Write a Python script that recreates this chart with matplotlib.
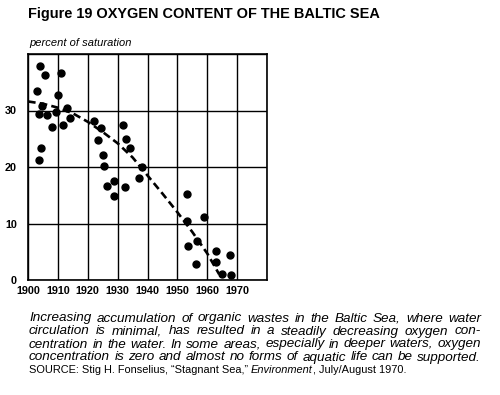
import numpy as np
import matplotlib.pyplot as plt

plt.rcParams['font.family'] = ['Liberation Sans', 'DejaVu Sans']

# data points
years = [1903.1, 1903.9, 1905.6, 1904.8, 1903.7, 1906.4, 1904.5, 1903.6, 1908.1, 1909.5,
         1910.1, 1911.0, 1911.7, 1913.1, 1914.0, 1922.0, 1924.4, 1923.3, 1925.2, 1925.5,
         1926.6, 1928.7, 1928.7, 1931.8, 1932.8, 1934.1, 1932.6, 1937.0, 1938.0, 1953.1,
         1953.1, 1953.5, 1956.5, 1956.3, 1958.9, 1963.0, 1963.0, 1964.9, 1967.7, 1968.1]
oxygen = [33.4, 37.8, 36.2, 30.8, 29.4, 29.2, 23.4, 21.3, 27.1, 29.7,
          32.8, 36.6, 27.4, 30.4, 28.6, 28.1, 26.9, 24.7, 22.2, 20.1,
          16.7, 17.6, 14.8, 27.5, 24.9, 23.4, 16.5, 18.0, 20.0, 15.2,
          10.5, 6.0, 6.9, 2.8, 11.2, 5.1, 3.1, 1.1, 4.5, 0.8]

# dashed trend curve
trend_years = [1900, 1905, 1910, 1915, 1920, 1925, 1930, 1935, 1940, 1945, 1950, 1955, 1960, 1964]
trend_vals = [31.6, 31.2, 30.5, 29.5, 28.0, 26.2, 24.2, 21.7, 18.5, 15.3, 12.0, 8.5, 4.7, 1.0]

xticks = [1900, 1910, 1920, 1930, 1940, 1950, 1960, 1970, 1980]
xlabels = ['1900', '1910', '1920', '1930', '1940', '1950', '1960', '1970', '']
yticks = [0, 10, 20, 30, 40]
ylabels = ['0', '10', '20', '30', '']

title = 'Figure 19 OXYGEN CONTENT OF THE BALTIC SEA'
caption = ['Increasing accumulation of organic wastes in the Baltic Sea, where water',
           'circulation is minimal, has resulted in a steadily decreasing oxygen con-',
           'centration in the water. In some areas, especially in deeper waters, oxygen',
           'concentration is zero and almost no forms of aquatic life can be supported.']
source = ['SOURCE: Stig H. Fonselius, \u201cStagnant Sea,\u201d ', 'Environment', ', July/August 1970.']

W, H = 500, 395
fig = plt.figure(figsize=(W / 100, H / 100), dpi=100)
ax = fig.add_axes([28 / W, 1 - 280 / H, 239 / W, 226 / H])

ax.plot(trend_years, trend_vals, color='black', lw=1.9, ls=(0, (2.9, 1.6)), zorder=2)
ax.scatter(years, oxygen, s=25, color='black', zorder=3)

ax.set_xlim(1900, 1980)
ax.set_ylim(0, 40)
ax.set_xticks(xticks)
ax.set_xticklabels(xlabels, fontsize=7.8, fontweight='bold')
ax.set_yticks(yticks)
ax.set_yticklabels(ylabels, fontsize=7.8, fontweight='bold')
ax.tick_params(length=0)
ax.tick_params(axis='x', pad=4)
ax.tick_params(axis='y', pad=8)
ax.grid(True, color='black', lw=1)
for s in ax.spines.values():
    s.set_linewidth(1.2)

fig.canvas.draw()
r = fig.canvas.get_renderer()


def fit_text(x, y, s, width, size, **kw):
    t = fig.text(x / W, 1 - y / H, s, fontsize=size, va='baseline', **kw)
    w = t.get_window_extent(r).width
    t.set_fontsize(size * width / w)
    return t


fit_text(28, 18, title, 351, 11, fontweight='bold')
fit_text(29, 46, 'percent of saturation', 101, 7, style='italic')

# justified caption, font sized so the widest line nearly fills the width
x0, x1 = 29, 481
probe = [fig.text(0, 0, line, fontsize=9, style='italic') for line in caption]
natural = max(t.get_window_extent(r).width for t in probe)
for t in probe:
    t.remove()
cap_size = 9 * (x1 - x0 - 4) / natural

for i, line in enumerate(caption):
    y = 321.5 + i * 13
    words = line.split()
    ts = [fig.text(0, 1 - y / H, w, fontsize=cap_size, style='italic', va='baseline') for w in words]
    widths = [t.get_window_extent(r).width for t in ts]
    gap = (x1 - x0 - sum(widths)) / (len(words) - 1)
    x = x0
    for t, wd in zip(ts, widths):
        t.set_x(x / W)
        x += wd + gap

# source line with italic journal name, scaled to its width in the reference
styles = ['normal', 'italic', 'normal']
ts = [fig.text(0, 1 - 373 / H, s, fontsize=7, style=st, va='baseline') for s, st in zip(source, styles)]
total = sum(t.get_window_extent(r).width for t in ts)
src_size = 7 * 378 / total
x = 29
for t in ts:
    t.set_fontsize(src_size)
    t.set_x(x / W)
    x += t.get_window_extent(r).width

fig.savefig('out.png', dpi=100)
